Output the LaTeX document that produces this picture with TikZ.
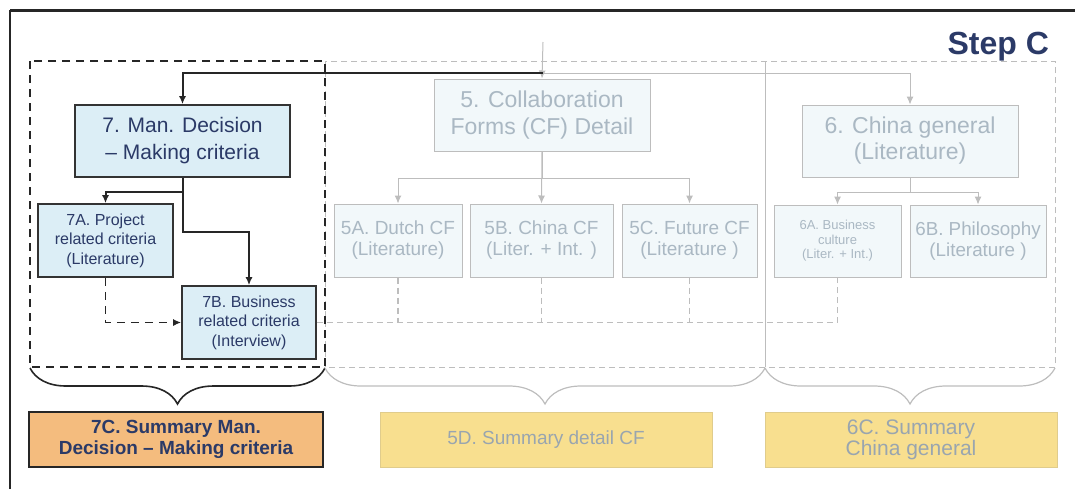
\documentclass[tikz,border=0pt]{standalone}
\usepackage{fontspec}
\setmainfont{Liberation Sans}
\usetikzlibrary{arrows.meta,decorations.pathreplacing}
\definecolor{stepnavy}{HTML}{2B3A67}
\definecolor{activefill}{HTML}{DCEEF6}
\definecolor{fadefill}{HTML}{F2F8FA}
\definecolor{fadeline}{HTML}{BDBDBD}
\definecolor{fadetext}{HTML}{AAB8C3}
\definecolor{sumorange}{HTML}{F4BC7E}
\definecolor{sumyellow}{HTML}{F8DF8F}
\tikzset{
  box/.style={draw, inner sep=1pt, align=center, anchor=center},
  activebox/.style={box, fill=activefill, draw=black!80, line width=0.8pt, text=stepnavy},
  fadebox/.style={box, fill=fadefill, draw=fadeline, line width=0.5pt, text=fadetext},
  sumbox/.style={box, minimum height=27.5pt, font=\bfseries\fontsize{9.5}{10.5}\selectfont},
  fadesum/.style={sumbox, fill=sumyellow, draw=sumyellow!80!gray, line width=0.4pt, text=fadetext!90!black},
  activeline/.style={draw=black!85, line width=1pt},
  fadelink/.style={draw=fadeline, line width=0.5pt},
  tip/.style={-{Latex[length=4pt,width=3.5pt]}},
  collect/.style={draw=fadeline, line width=0.6pt, dash pattern=on 3pt off 2pt},
  colframe/.style={draw=fadeline, line width=0.5pt, dash pattern=on 3pt off 2pt},
  curly/.style={decorate, decoration={brace, amplitude=18pt}},
}

\begin{document}
\begin{tikzpicture}[x=0.5pt, y=-0.5pt]
  \useasboundingbox (0,0) rectangle (1075,489);
  % outer rule
  \draw[black!85, line width=1pt] (10,489) -- (10,10);
  \draw[black!85, line width=1.5pt] (10,10) -- (1075,10);
  \node[anchor=east, font=\bfseries\fontsize{16}{18}\selectfont, text=stepnavy] (step) at (1056,47) {Step C};

  % column frames
  \draw[colframe] (325,61) rectangle (765,367);
  \draw[colframe] (765,61) rectangle (1055,367);
  \draw[black!85, line width=0.7pt, dash pattern=on 4pt off 3pt] (30,61) rectangle (325,367);

  % first level
  \node[activebox, minimum width=107.5pt, minimum height=36pt, font=\fontsize{10.5}{13.5}\selectfont] (n7) at (182.5,141) {7. Man. Decision\\ -- Making criteria};
  \node[fadebox, minimum width=108pt, minimum height=36pt, font=\fontsize{11.5}{13.5}\selectfont] (n5) at (542,115) {5. Collaboration\\ Forms (CF) Detail};
  \node[fadebox, minimum width=108pt, minimum height=36pt, font=\fontsize{11.5}{13}\selectfont] (n6) at (910,141) {6. China general\\ (Literature)};

  % second level
  \node[activebox, minimum width=67.5pt, minimum height=36.5pt, font=\fontsize{8}{9.8}\selectfont] (n7a) at (105.5,240.5) {7A. Project\\ related criteria\\ (Literature)};
  \node[activebox, minimum width=67pt, minimum height=36.5pt, font=\fontsize{8}{9.8}\selectfont] (n7b) at (249,322.5) {7B. Business\\ related criteria\\ (Interview)};
  \node[fadebox, minimum width=64pt, minimum height=36.5pt, font=\fontsize{9.5}{10.5}\selectfont] (n5a) at (398,240.5) {5A. Dutch CF\\ (Literature)};
  \node[fadebox, minimum width=71.5pt, minimum height=36.5pt, font=\fontsize{9.5}{10.5}\selectfont] (n5b) at (541.5,240.5) {5B. China CF\\ (Liter. + Int. )};
  \node[fadebox, minimum width=67.5pt, minimum height=36.5pt, font=\fontsize{9.5}{10.5}\selectfont] (n5c) at (689.5,240.5) {5C. Future CF\\ (Literature )};
  \node[fadebox, minimum width=63.5pt, minimum height=36pt, font=\fontsize{6.5}{7.2}\selectfont] (n6a) at (837.5,241) {6A. Business\\ culture\\ (Liter. + Int.)};
  \node[fadebox, minimum width=68pt, minimum height=36pt, font=\fontsize{9.4}{10.5}\selectfont] (n6b) at (978,241) {6B. Philosophy\\ (Literature )};

  % incoming line
  \coordinate (in) at (543,42);
  \coordinate (split) at (543,73);
  \draw[fadelink, tip] (in) -- (n5.north);
  \draw[fadelink, tip] (split) -| (n6.north);
  \draw[activeline, tip] (split) -| (n7.north);

  % links in the active column
  \draw[activeline, tip] (n7.south) -- ++(0,14) -| (n7a.north);
  \draw[activeline, tip] (n7.south) -- ++(0,54) -| (n7b.north);
  \draw[black!85, line width=0.8pt, dash pattern=on 4pt off 3pt, tip] (n7a.south) |- (n7b.west);

  % links in the faded columns
  \draw[fadelink, tip] (n5.south) -- ++(0,27) -| (n5a.north);
  \draw[fadelink, tip] (n5.south) -- ++(0,27) -| (n5c.north);
  \draw[fadelink, tip] (n5.south) -- (n5b.north);
  \draw[fadelink, tip] (n6.south) -- ++(0,15) -| (n6a.north);
  \draw[fadelink, tip] (n6.south) -- ++(0,15) -| (n6b.north);
  \draw[collect] (n7b.east) -| (n6a.south);
  \foreach \b in {n5a,n5b,n5c}
    \draw[collect] (\b.south) -- (\b.south |- n7b.east);

  % braces
  \draw[curly, black!85, line width=0.8pt] (325,368) -- (30,368);
  \draw[curly, fadeline, line width=0.6pt] (765,368) -- (325,368);
  \draw[curly, fadeline, line width=0.6pt] (1055,368) -- (765,368);

  % summaries
  \node[sumbox, fill=sumorange, draw=black!85, line width=0.8pt, text=stepnavy, minimum width=147pt] (n7c) at (176,439.5) {7C. Summary Man.\\ Decision -- Making criteria};
  \node[fadesum, minimum width=166pt, font=\fontsize{9.5}{10.5}\selectfont] (n5d) at (546,439.5) {5D. Summary detail CF};
  \node[fadesum, minimum width=146pt, font=\fontsize{10.5}{10.5}\selectfont] (n6c) at (911,439.5) {6C. Summary\\ China general};
\end{tikzpicture}
\end{document}
